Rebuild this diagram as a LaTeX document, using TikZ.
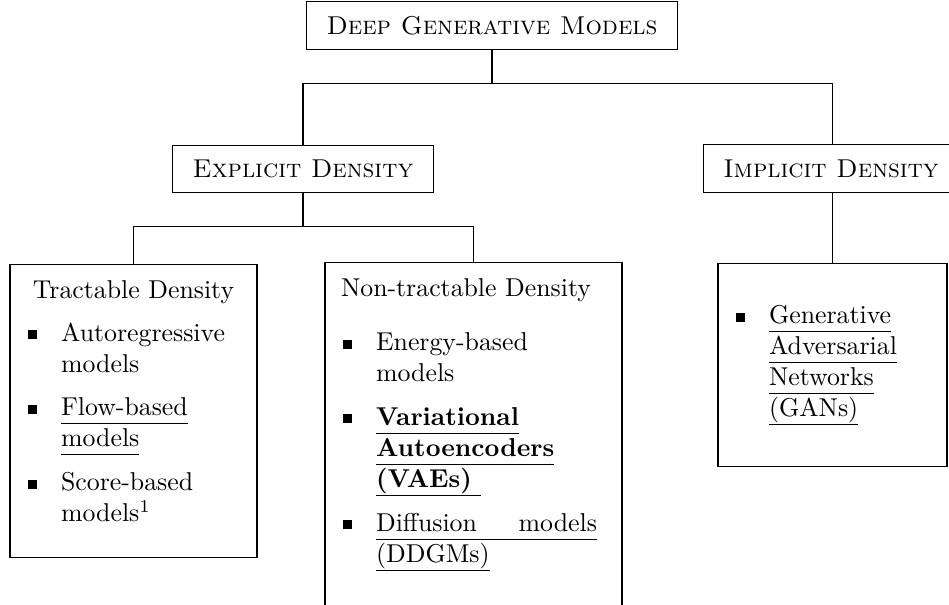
\documentclass[tikz,border=0pt]{standalone}
\usepackage{amsmath,amssymb}
\usepackage{tikz}

% square bullet, underlined word and underlined filler
\newcommand{\sqbullet}{\raisebox{0.8pt}{\rule{3.5pt}{3.5pt}}}
\newsavebox{\ulwordbox}
\newcommand{\ulword}[1]{\leavevmode\sbox{\ulwordbox}{#1}%
  \rlap{\rule[-3.2pt]{\wd\ulwordbox}{0.4pt}}\usebox{\ulwordbox}}
\newcommand{\ulfill}{\leaders\hrule height -2.8pt depth 3.2pt\hfill}
% the item list used inside the leaf boxes
\newenvironment{modellist}[2]{%
  \begin{list}{\sqbullet}{%
    \setlength{\leftmargin}{13.6pt}%
    \setlength{\rightmargin}{#2}%
    \setlength{\labelwidth}{4.3pt}%
    \setlength{\labelsep}{9.3pt}%
    \setlength{\itemsep}{5pt}%
    \setlength{\parsep}{0pt}%
    \setlength{\topsep}{#1}%
    \setlength{\partopsep}{0pt}}}%
  {\end{list}}

\begin{document}
\begin{tikzpicture}[x=0.3876pt,y=-0.3876pt,line width=0.5pt,
    catbox/.style={draw,inner xsep=7.8pt,inner ysep=0.2cm,font=\scshape},
    listbox/.style={draw,inner sep=6.2pt,anchor=north}]
  \useasboundingbox (0,0) rectangle (949,604);
  % Root
  \node[catbox] (dgm) at (492,25.5) {Deep Generative Models};
  % Density families
  \node[catbox] (expl) at (303,169) {Explicit Density};
  \node[catbox] (impl) at (831,168.5) {Implicit Density};
  % Tractable leaf
  \node[listbox] (tract) at (133.5,264) {%
    \begin{minipage}[t][101.2pt][t]{83.3pt}
      {\centering Tractable Density\par}
      \begin{modellist}{4.5pt}{0pt}
        \item Autoregressive\\ models
        \item \ulword{Flow-based}\\ \ulword{models}
        \item Score-based\\ models\textsuperscript{1}
      \end{modellist}
    \end{minipage}};
  % Non-tractable leaf
  \node[listbox] (nontract) at (473.5,262) {%
    \begin{minipage}[t][126pt][t]{102.7pt}
      Non-tractable Density\par
      \begin{modellist}{9pt}{3.5pt}
        \item Energy-based\\ models
        \item \textbf{\ulword{Variational}\\ \ulword{Autoencoders}\\
          \ulword{(VAEs)\kern3.5pt}}
        \item \ulword{Diffusion}\ulfill\ulword{models}\\ \ulword{(DDGMs)}
      \end{modellist}
    \end{minipage}};
  % Implicit leaf
  \node[listbox] (gan) at (832.5,263) {%
    \begin{minipage}[t][66.3pt][c]{76.4pt}
      \begin{modellist}{0pt}{0pt}
        \item \ulword{Generative}\\ \ulword{Adversarial}\\
          \ulword{Networks}\\ \ulword{(GANs)}
      \end{modellist}
    \end{minipage}};
  % Connectors
  \draw (dgm.south) -- ++(0,33) -| (expl.north);
  \draw (dgm.south) -- ++(0,33) -| (gan.north |- impl.north);
  \draw (expl.south) -- ++(0,33) -| (tract.north);
  \draw (expl.south) -- ++(0,33) -| (nontract.north);
  \draw (gan.north |- impl.south) -- (gan.north);
\end{tikzpicture}
\end{document}
